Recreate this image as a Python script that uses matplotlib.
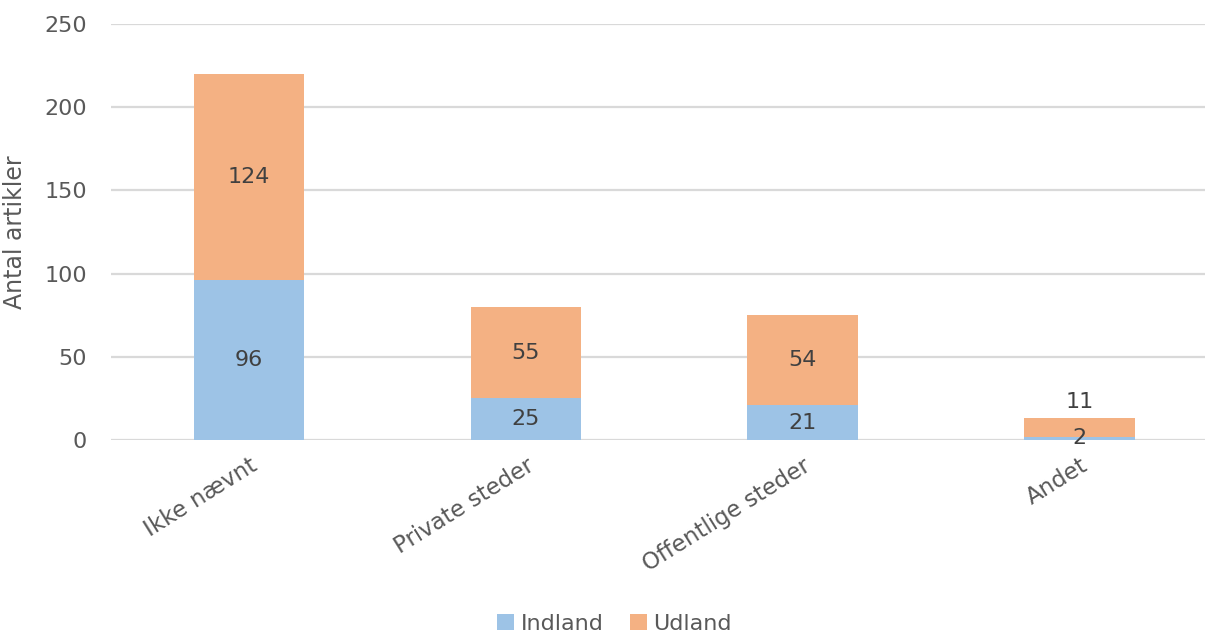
"""Stacked bars: articles by place, Indland vs Udland"""

import matplotlib.pyplot as plt

categories = ['Ikke nævnt', 'Private steder', 'Offentlige steder', 'Andet']
indland = [96, 25, 21, 2]
udland = [124, 55, 54, 11]
yticks = [0, 50, 100, 150, 200, 250]

TEXT = '#595959'
BLUE = '#9DC3E6'
ORANGE = '#F4B183'
GRID = '#D9D9D9'

plt.rcParams['font.family'] = ['DejaVu Sans']

fig = plt.figure(figsize=(12.05, 6.35), dpi=100)
# plot area runs a little past the right edge, like the original
ax = fig.add_axes([110.6 / 1205, 195 / 635, 1107.4 / 1205, 416 / 635])

x = list(range(len(categories)))
ax.bar(x, indland, width=0.4, color=BLUE, label='Indland', zorder=2)
ax.bar(x, udland, width=0.4, bottom=indland, color=ORANGE,
       label='Udland', zorder=2)

# data labels
for i in x:
    ax.text(i, indland[i] / 2, str(indland[i]), ha='center', va='center',
            fontsize=16, color='#404040', zorder=3)
    if udland[i] < 20:
        ax.annotate(str(udland[i]), (i, indland[i] + udland[i]),
                    xytext=(0, 12), textcoords='offset points',
                    ha='center', va='center', fontsize=16, color='#404040')
    else:
        ax.text(i, indland[i] + udland[i] / 2, str(udland[i]), ha='center',
                va='center', fontsize=16, color='#404040', zorder=3)

ax.set_xlim(-0.5, len(categories) - 0.5)
ax.set_ylim(0, 250)
ax.set_yticks(yticks)
ax.set_yticklabels([str(t) for t in yticks], fontsize=16, color=TEXT)
ax.set_xticks(x)
ax.set_xticklabels(categories, rotation=32, ha='right', rotation_mode='anchor',
                   fontsize=16.5, color=TEXT)
ax.tick_params(axis='both', length=0)
ax.tick_params(axis='y', pad=17)
ax.tick_params(axis='x', pad=10)

ax.set_ylabel('Antal artikler', fontsize=17, color=TEXT)
ax.yaxis.set_label_coords(-0.0755, 0.5)

ax.grid(axis='y', color=GRID, linewidth=1.6, zorder=0)
ax.set_axisbelow(True)
for side in ['top', 'right', 'left', 'bottom']:
    ax.spines[side].set_visible(False)

fig.legend(loc='center', bbox_to_anchor=(0.51, 0.018), ncol=2, frameon=False,
           fontsize=16, labelcolor=TEXT, handlelength=0.75, handleheight=0.75,
           handletextpad=0.3, columnspacing=1.2)

plt.savefig('out.png', dpi=100)
